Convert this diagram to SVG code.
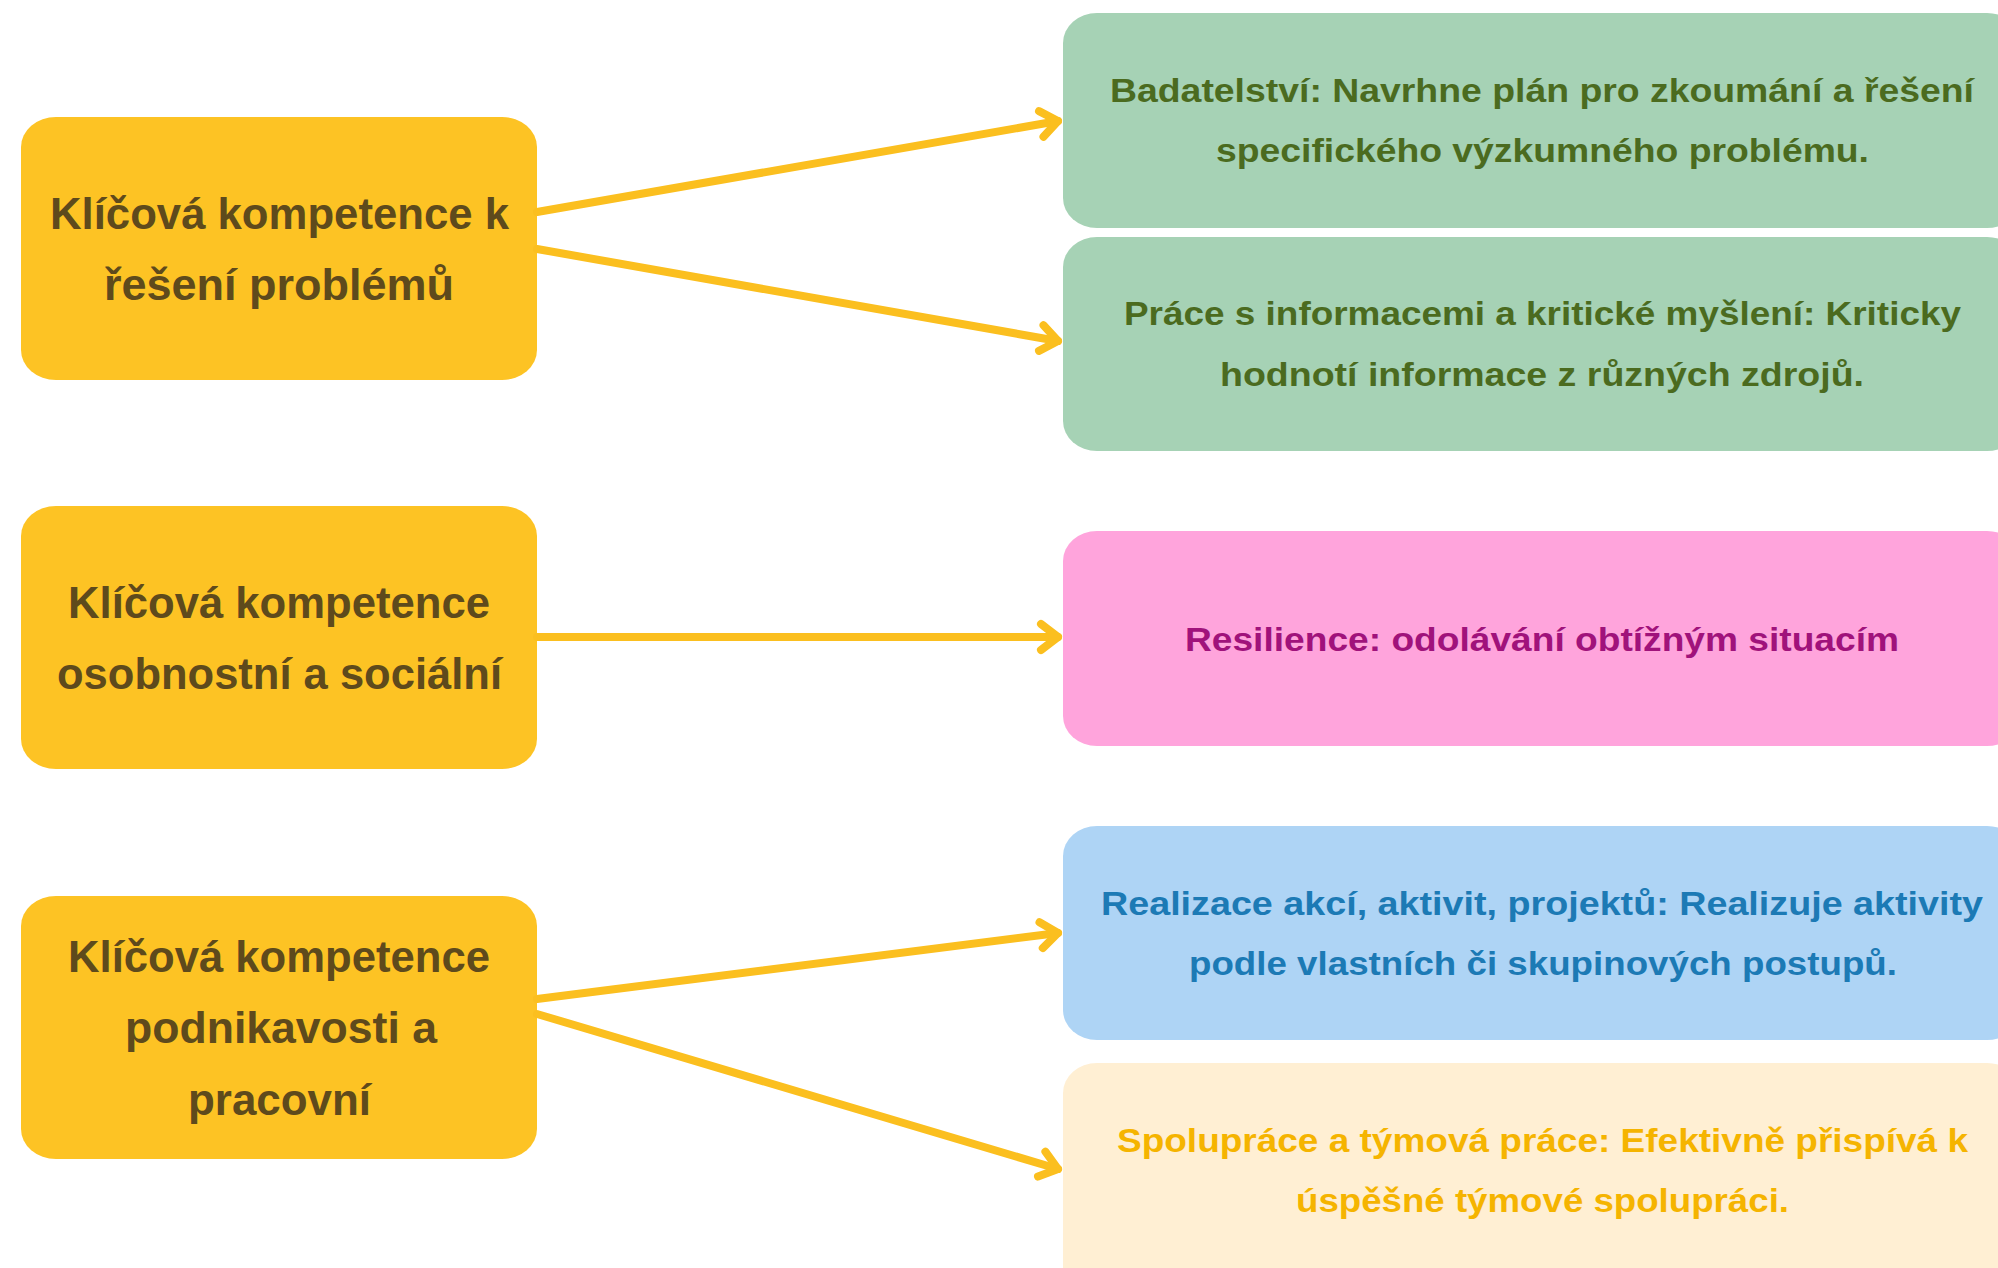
<svg xmlns="http://www.w3.org/2000/svg" width="1998" height="1268" viewBox="0 0 1998 1268">
<style>
text{font-family:"Liberation Sans Narrow","Liberation Sans",Arial,sans-serif;font-weight:bold}
.k rect{fill:#FDC324}
.k text{fill:#5E4A1C;font-size:45px}
.r text{font-size:33px}
.g rect{fill:#A6D2B5}.g text{fill:#4B6B1F}
.p rect{fill:#FFA4DC}.p text{fill:#A0127B}
.b rect{fill:#AED4F5}.b text{fill:#1C7AB5}
.c rect{fill:#FFEFD3}.c text{fill:#F5B400}
.con line{stroke:#FBBF1F;stroke-width:8;stroke-linecap:round}
</style>
<defs>
<marker id="ah" markerUnits="userSpaceOnUse" markerWidth="40" markerHeight="40" viewBox="-30 -20 40 40" refX="0" refY="0" orient="auto">
<path d="M-17,-13 L0,0 L-17,13" fill="none" stroke="#FBBF1F" stroke-width="8" stroke-linecap="round" stroke-linejoin="round"/>
</marker>
</defs>
<rect width="1998" height="1268" fill="#FFFFFF"/>

<g id="k1" class="k">
<rect x="21" y="117" width="516" height="263" rx="35" ry="30"/>
<text x="50" y="229" textLength="459" lengthAdjust="spacingAndGlyphs">Klíčová kompetence k</text>
<text x="104" y="300" textLength="350" lengthAdjust="spacingAndGlyphs">řešení problémů</text>
</g>
<g id="k2" class="k">
<rect x="21" y="506" width="516" height="263" rx="35" ry="30"/>
<text x="68" y="618" textLength="422" lengthAdjust="spacingAndGlyphs">Klíčová kompetence</text>
<text x="57" y="689" textLength="445" lengthAdjust="spacingAndGlyphs">osobnostní a sociální</text>
</g>
<g id="k3" class="k">
<rect x="21" y="896" width="516" height="263" rx="35" ry="30"/>
<text x="68" y="972" textLength="422" lengthAdjust="spacingAndGlyphs">Klíčová kompetence</text>
<text x="125" y="1043" textLength="312" lengthAdjust="spacingAndGlyphs">podnikavosti a</text>
<text x="188" y="1115" textLength="183" lengthAdjust="spacingAndGlyphs">pracovní</text>
</g>

<g id="r1" class="r g">
<rect x="1063" y="13" width="958" height="215" rx="34" ry="30"/>
<text x="1110" y="102" textLength="864" lengthAdjust="spacingAndGlyphs">Badatelství: Navrhne plán pro zkoumání a řešení</text>
<text x="1216" y="162" textLength="653" lengthAdjust="spacingAndGlyphs">specifického výzkumného problému.</text>
</g>
<g id="r2" class="r g">
<rect x="1063" y="237" width="958" height="214" rx="34" ry="30"/>
<text x="1124" y="325" textLength="837" lengthAdjust="spacingAndGlyphs">Práce s informacemi a kritické myšlení: Kriticky</text>
<text x="1220" y="386" textLength="644" lengthAdjust="spacingAndGlyphs">hodnotí informace z různých zdrojů.</text>
</g>
<g id="r3" class="r p">
<rect x="1063" y="531" width="958" height="215" rx="34" ry="30"/>
<text x="1185" y="651" textLength="714" lengthAdjust="spacingAndGlyphs">Resilience: odolávání obtížným situacím</text>
</g>
<g id="r4" class="r b">
<rect x="1063" y="826" width="958" height="214" rx="34" ry="30"/>
<text x="1101" y="915" textLength="882" lengthAdjust="spacingAndGlyphs">Realizace akcí, aktivit, projektů: Realizuje aktivity</text>
<text x="1189" y="975" textLength="708" lengthAdjust="spacingAndGlyphs">podle vlastních či skupinových postupů.</text>
</g>
<g id="r5" class="r c">
<rect x="1063" y="1063" width="958" height="260" rx="34" ry="30"/>
<text x="1117" y="1152" textLength="851" lengthAdjust="spacingAndGlyphs">Spolupráce a týmová práce: Efektivně přispívá k</text>
<text x="1296" y="1212" textLength="493" lengthAdjust="spacingAndGlyphs">úspěšné týmové spolupráci.</text>
</g>

<g id="connectors" class="con">
<line x1="537" y1="212" x2="1058" y2="121" marker-end="url(#ah)"/>
<line x1="537" y1="249" x2="1058" y2="341" marker-end="url(#ah)"/>
<line x1="537" y1="637" x2="1058" y2="637" marker-end="url(#ah)"/>
<line x1="537" y1="999" x2="1058" y2="933" marker-end="url(#ah)"/>
<line x1="537" y1="1014" x2="1058" y2="1169" marker-end="url(#ah)"/>
</g>
</svg>
